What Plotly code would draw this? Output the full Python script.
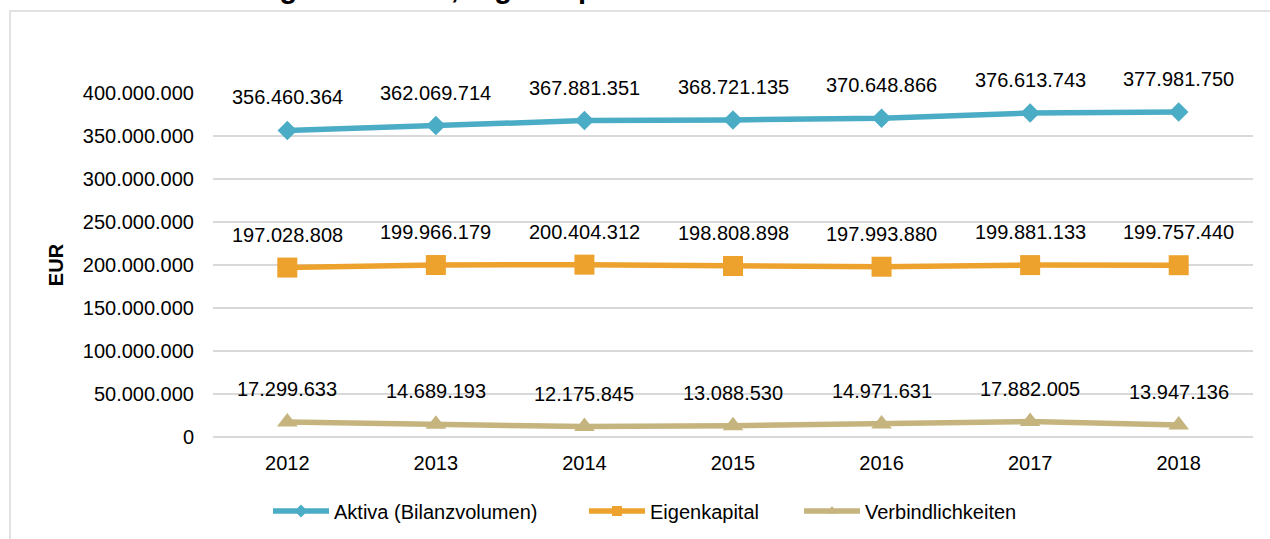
import plotly.graph_objects as go

years = ["2012", "2013", "2014", "2015", "2016", "2017", "2018"]
aktiva = [356460364, 362069714, 367881351, 368721135, 370648866, 376613743, 377981750]
eigenkapital = [197028808, 199966179, 200404312, 198808898, 197993880, 199881133, 199757440]
verbindlichkeiten = [17299633, 14689193, 12175845, 13088530, 14971631, 17882005, 13947136]

series_names = ["Aktiva (Bilanzvolumen)", "Eigenkapital", "Verbindlichkeiten"]
series_values = [aktiva, eigenkapital, verbindlichkeiten]
colors = ["#4BACC6", "#EDA22E", "#C6B47E"]
symbols = ["diamond", "square", "triangle-up"]
sizes = [15, 20, 18]

title_text = "Abb. 2: Entwicklung von Aktiva, Eigenkapital und Schulden"
y_title = "EUR"

FONT = "Arial, Liberation Sans, sans-serif"

# pixel layout helpers
W, H = 1270, 539
L, R, T, B = 213, 17, 93, 102
PW, PH = W - L - R, H - T - B


def px(xp):
    return (xp - L) / PW


def py(yp):
    return (H - B - yp) / PH


def fmt(v):
    return f"{v:,}".replace(",", ".")


legend_ids = ["legend", "legend2", "legend3"]
legend_x = [268, 584, 799]

fig = go.Figure()
for name, vals, c, s, sz, lid in zip(series_names, series_values, colors, symbols, sizes, legend_ids):
    fig.add_trace(go.Scatter(
        x=years, y=vals, name=name, mode="lines+markers",
        line=dict(color=c, width=5.5),
        marker=dict(symbol=s, size=sz, color=c),
        showlegend=False,
    ))
    # legend entry (smaller marker, as in the reference legend)
    fig.add_trace(go.Scatter(
        x=[None], y=[None], name=name, mode="lines+markers",
        line=dict(color=c, width=5.5),
        marker=dict(symbol=s, size=10, color=c),
        showlegend=True, legend=lid,
    ))

annotations = []
for vals in series_values:
    for i, v in enumerate(vals):
        annotations.append(dict(
            x=i, y=v, xref="x", yref="y", text=fmt(v), showarrow=False,
            yshift=33, font=dict(family=FONT, size=20, color="#000000"),
        ))

annotations.append(dict(
    x=px(18), y=py(6), xref="paper", yref="paper", xanchor="left", yanchor="bottom",
    text="<b>" + title_text + "</b>", showarrow=False,
    font=dict(family=FONT, size=29, color="#000000"),
))

leg_common = dict(
    orientation="h", yref="container", y=1 - 511 / H, xref="container",
    xanchor="left", yanchor="middle",
    font=dict(family=FONT, size=20, color="#000000"),
    itemwidth=56, bgcolor="rgba(0,0,0,0)",
)

fig.update_layout(
    width=W, height=H,
    margin=dict(l=L, r=R, t=T, b=B),
    paper_bgcolor="white", plot_bgcolor="white",
    separators=",.",
    font=dict(family=FONT, size=20, color="#000000"),
    showlegend=True,
    legend=dict(x=legend_x[0] / W, **leg_common),
    legend2=dict(x=legend_x[1] / W, **leg_common),
    legend3=dict(x=legend_x[2] / W, **leg_common),
    annotations=annotations,
    shapes=[dict(
        type="rect", xref="paper", yref="paper",
        x0=px(10), x1=px(1290), y0=py(560), y1=py(11),
        line=dict(color="#D9D9D9", width=1.5), fillcolor="rgba(0,0,0,0)", layer="below",
    )],
)

fig.update_xaxes(
    type="category", range=[-0.5, 6.5], showgrid=False, showline=False, zeroline=False,
    ticks="outside", ticklen=8, tickcolor="rgba(0,0,0,0)", automargin=False,
    tickfont=dict(family=FONT, size=20, color="#000000"),
)
fig.update_yaxes(
    range=[0, 400000000], dtick=50000000, tickformat=",d", automargin=False,
    showgrid=True, gridcolor="#D9D9D9", gridwidth=1.5,
    zeroline=True, zerolinecolor="#D9D9D9", zerolinewidth=1.5,
    ticks="outside", ticklen=14, tickcolor="rgba(0,0,0,0)",
    tickfont=dict(family=FONT, size=20, color="#000000"),
    title=dict(text="<b>" + y_title + "</b>", standoff=13,
               font=dict(family=FONT, size=20, color="#000000")),
)

fig.write_html(
    "out.html",
    config={"displayModeBar": False},
    post_script="document.body.style.margin='0';document.body.style.overflow='hidden';",
)
